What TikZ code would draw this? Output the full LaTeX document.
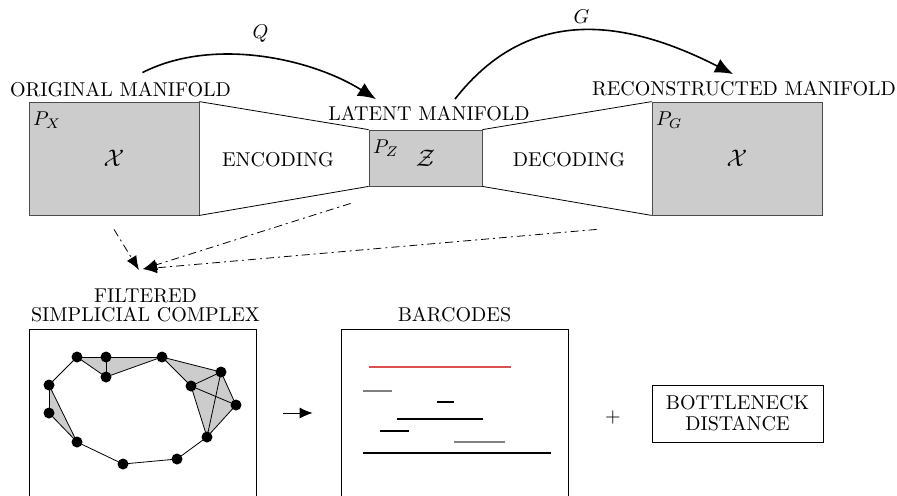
\documentclass[tikz,border=0pt]{standalone}
\usepackage{amsmath}
\usetikzlibrary{arrows.meta,positioning}
\begin{document}
\begin{tikzpicture}[x=5pt, y=-5pt,
    mfld/.style={rectangle,draw=black!70,fill=black!20,inner sep=0pt},
    panel/.style={rectangle,draw,inner sep=0pt},
    corner/.style={anchor=north west,inner xsep=2pt,inner ysep=5pt},
    vtx/.style={circle,fill=black,inner sep=0pt,minimum size=5.5pt},
    map/.style={-{Latex[length=9pt,width=7.5pt]},thick},
    feed/.style={-{Latex[length=7pt,width=5.5pt]},dash pattern=on 4pt off 2pt on 1pt off 2pt},
    bar/.style={line width=0.6pt}]
    \useasboundingbox (0,0) rectangle (89.7,49.5);
%   manifolds
    \node (X) at (11.4,15.85) [mfld,minimum width=85pt,minimum height=56.5pt] {\large $\mathcal{X}$};
    \node (Z) at (42.55,15.8) [mfld,minimum width=56.5pt,minimum height=28pt] {\large $\mathcal{Z}$};
    \node (XG) at (73.7,15.85) [mfld,minimum width=85pt,minimum height=56.5pt] {\large $\mathcal{X}$};
    \node (PX) at (X.north west) [corner] {$P_X$}; \node (PZ) at (Z.north west) [corner] {$P_Z$}; \node (PG) at (XG.north west) [corner] {$P_G$};
    \node (Xlab) at (12.05,9.0) {ORIGINAL MANIFOLD};
    \node (Zlab) at (42.9,11.35) {LATENT MANIFOLD};
    \node (XGlab) at (74.4,8.85) {RECONSTRUCTED MANIFOLD};
%
    \draw (X.north east) -- (Z.north west); \draw (X.south east) -- (Z.south west);
    \draw (Z.north east) -- (XG.north west); \draw (Z.south east) -- (XG.south west);
    \node (enc) at (27.8,16.0) {ENCODING};
    \node (dec) at (56.9,16.0) {DECODING};
%
    \draw [map] ([xshift=11pt,yshift=1.5pt]Xlab.north) to[out=27,in=148,looseness=0.85] node[above=3.5pt] {$Q$} ([xshift=-26.5pt]Zlab.north);
    \draw [map] ([xshift=13pt]Zlab.north) to[out=52,in=153,looseness=1.1] node[above] {$G$} ([xshift=-5.5pt]XGlab.north);
%   towards the complex
    \coordinate (hub) at (14.3,26.9);
    \draw [feed] ([yshift=-7pt]X.south) -- ([xshift=-2pt,yshift=-0.5pt]hub);
    \draw [feed] ([xshift=-9pt,yshift=-8.5pt]Z.south west) -- (hub);
    \draw [feed] ([xshift=-27.5pt,yshift=-7pt]XG.south west) -- (hub);
%   complex, barcodes, distance
    \node (cplx) at (14.25,41.3) [panel,minimum width=113.5pt,minimum height=84pt] {};
    \node (cplxlab) [above=0pt of cplx,xshift=1.5pt,align=center] {FILTERED\\[-2.5pt]SIMPLICIAL COMPLEX};
    \node (bars) at (45.45,41.3) [panel,minimum width=113.5pt,minimum height=84pt] {};
    \node (barslab) [above=0pt of bars] {BARCODES};
    \draw [-{Latex[length=6.5pt,width=5.5pt]}] ([xshift=13.5pt]cplx.east) -- ([xshift=-14pt]bars.west);
    \node (plus) at (61.3,41.7) {$+$};
    \node (bneck) at (73.75,41.35) [panel,minimum width=85.5pt,minimum height=28.5pt,align=center] {BOTTLENECK\\[-1.5pt]DISTANCE};
%
    \coordinate (v1) at (7.7,35.7); \coordinate (v2) at (10.6,35.7); \coordinate (v3) at (16.2,35.7); \coordinate (v4) at (10.6,37.7);
    \coordinate (v5) at (4.9,38.5); \coordinate (v6) at (4.9,41.3); \coordinate (v7) at (7.7,44.2); \coordinate (v8) at (12.3,46.4);
    \coordinate (v9) at (17.7,45.9); \coordinate (v10) at (20.7,43.7); \coordinate (v11) at (23.6,40.5); \coordinate (v12) at (22.1,37.2); \coordinate (v13) at (19.1,38.6);
    \fill [black!20] (v1) -- (v3) -- (v4) -- cycle; \fill [black!20] (v5) -- (v6) -- (v7) -- cycle;
    \fill [black!20] (v3) -- (v12) -- (v11) -- (v10) -- (v13) -- cycle;
    \draw (v1) -- (v2); \draw (v2) -- (v3); \draw (v1) -- (v4); \draw (v2) -- (v4); \draw (v4) -- (v3);
    \draw (v1) -- (v5); \draw (v5) -- (v6); \draw (v5) -- (v7); \draw (v6) -- (v7);
    \draw (v7) -- (v8); \draw (v8) -- (v9); \draw (v9) -- (v10);
    \draw (v3) -- (v12); \draw (v3) -- (v13); \draw (v12) -- (v11); \draw (v11) -- (v10); \draw (v10) -- (v13);
    \draw (v13) -- (v12); \draw (v13) -- (v11); \draw (v12) -- (v10);
    \foreach \v in {v1,v2,v3,v4,v5,v6,v7,v8,v9,v10,v11,v12,v13} \node [vtx] at (\v) {};
%
    \draw [bar,color={rgb,255:red,220;green,80;blue,80}] (36.9,36.7) -- (51.1,36.7);
    \draw [bar,gray] (36.3,39.1) -- (39.2,39.1); \draw [bar] (43.7,40.2) -- (45.4,40.2);
    \draw [bar] (39.7,41.9) -- (48.3,41.9); \draw [bar] (38.0,43.1) -- (40.9,43.1);
    \draw [bar,gray] (45.4,44.2) -- (50.5,44.2); \draw [bar] (36.3,45.3) -- (55.1,45.3);
\end{tikzpicture}
\end{document}
